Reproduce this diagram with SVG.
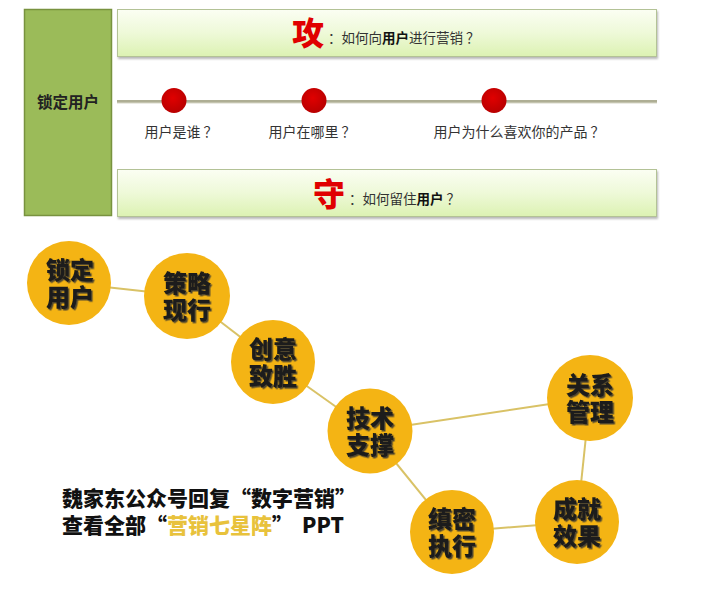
<svg xmlns="http://www.w3.org/2000/svg" width="707" height="592" viewBox="0 0 707 592">
<defs>
<linearGradient id="bannerGrad" x1="0" y1="0" x2="0" y2="1">
<stop offset="0" stop-color="#fbfef3"/>
<stop offset="0.5" stop-color="#eef9d8"/>
<stop offset="1" stop-color="#dcf2b2"/>
</linearGradient>
<radialGradient id="redDot" cx="0.45" cy="0.4" r="0.6">
<stop offset="0" stop-color="#e00000"/>
<stop offset="1" stop-color="#b80000"/>
</radialGradient>
<filter id="boxShadow" x="-5%" y="-20%" width="110%" height="150%">
<feDropShadow dx="1" dy="2" stdDeviation="1.2" flood-color="#888" flood-opacity="0.6"/>
</filter>
<filter id="txtShadow" x="-10%" y="-10%" width="130%" height="130%">
<feDropShadow dx="1.5" dy="1.5" stdDeviation="0.7" flood-color="#333" flood-opacity="0.85"/>
</filter>
</defs>
<style>
.cjk{font-family:"Noto Sans CJK SC","Noto Sans",sans-serif;}
.banner{fill:url(#bannerGrad);stroke:#b3c296;stroke-width:1;filter:url(#boxShadow);}
.big{font-size:32px;font-weight:900;fill:#e00000;}
.q{font-size:13.5px;fill:#333;}
.lbl{font-size:14px;fill:#333;text-anchor:middle;}
.dot{fill:url(#redDot);}
.node{fill:#f4b414;}
.ntxt{font-size:24px;font-weight:900;fill:#1a1a1a;text-anchor:middle;filter:url(#txtShadow);}
.link{stroke:#d9c266;stroke-width:2;fill:none;}
.note{font-size:21px;font-weight:900;fill:#111;}
</style>
<rect width="707" height="592" fill="#ffffff"/>

<g id="top-lock">
<rect x="24.5" y="9.5" width="87" height="206" fill="#9bbb59" stroke="#78923f" stroke-width="1.5"/>
<text class="cjk" x="68" y="107.5" font-size="15.5" font-weight="700" fill="#222" text-anchor="middle">锁定用户</text>
</g>

<g id="banner-attack">
<rect class="banner" x="117.5" y="9.5" width="539" height="47"/>
<text class="cjk big" x="292" y="45">攻</text>
<text class="cjk q" x="328" y="43">：如何向<tspan font-weight="700" fill="#111">用户</tspan>进行营销 ？</text>
</g>

<g id="timeline">
<line x1="117" y1="101.5" x2="657" y2="101.5" stroke="#aeae94" stroke-width="3"/>
<line x1="117" y1="103" x2="657" y2="103" stroke="#d8d8c8" stroke-width="1"/>
</g>
<g id="q1">
<circle class="dot" cx="174" cy="100.5" r="12.5"/>
<text class="cjk lbl" x="181" y="137">用户是谁 ？</text>
</g>
<g id="q2">
<circle class="dot" cx="314" cy="100.5" r="12.5"/>
<text class="cjk lbl" x="312" y="137">用户在哪里 ？</text>
</g>
<g id="q3">
<circle class="dot" cx="494" cy="100.5" r="12.5"/>
<text class="cjk lbl" x="519" y="137">用户为什么喜欢你的产品 ？</text>
</g>

<g id="banner-defend">
<rect class="banner" x="117.5" y="169.5" width="539" height="47"/>
<text class="cjk big" x="313" y="206">守</text>
<text class="cjk q" x="349" y="204">：如何留住<tspan font-weight="700" fill="#111">用户</tspan> ？</text>
</g>

<g id="connectors">
<line class="link" x1="69" y1="283" x2="187" y2="296"/>
<line class="link" x1="187" y1="296" x2="273" y2="362"/>
<line class="link" x1="273" y1="362" x2="370" y2="431"/>
<line class="link" x1="370" y1="431" x2="590" y2="398"/>
<line class="link" x1="370" y1="431" x2="452" y2="532"/>
<line class="link" x1="590" y1="398" x2="577" y2="522"/>
<line class="link" x1="577" y1="522" x2="452" y2="532"/>
</g>

<g id="n-lock">
<circle class="node" cx="69" cy="283" r="42"/>
<text class="cjk ntxt" x="70" y="279">锁定<tspan x="70" dy="27">用户</tspan></text>
</g>
<g id="n-strategy">
<circle class="node" cx="187" cy="296" r="43"/>
<text class="cjk ntxt" x="187" y="292">策略<tspan x="187" dy="27">现行</tspan></text>
</g>
<g id="n-creative">
<circle class="node" cx="273" cy="362" r="42"/>
<text class="cjk ntxt" x="273" y="358">创意<tspan x="273" dy="27">致胜</tspan></text>
</g>
<g id="n-tech">
<circle class="node" cx="370" cy="431" r="42.5"/>
<text class="cjk ntxt" x="370" y="427">技术<tspan x="370" dy="27">支撑</tspan></text>
</g>
<g id="n-relation">
<circle class="node" cx="590" cy="398" r="43"/>
<text class="cjk ntxt" x="590" y="394">关系<tspan x="590" dy="27">管理</tspan></text>
</g>
<g id="n-result">
<circle class="node" cx="577" cy="522" r="42"/>
<text class="cjk ntxt" x="577" y="518">成就<tspan x="577" dy="27">效果</tspan></text>
</g>
<g id="n-exec">
<circle class="node" cx="452" cy="532" r="42"/>
<text class="cjk ntxt" x="452" y="528">缜密<tspan x="452" dy="27">执行</tspan></text>
</g>

<g id="note">
<text class="cjk note" x="62" y="506">魏家东公众号回复“数字营销”</text>
<text class="cjk note" x="62" y="533">查看全部“<tspan fill="#e8c23c">营销七星阵</tspan>”<tspan x="302">PPT</tspan></text>
</g>
</svg>
